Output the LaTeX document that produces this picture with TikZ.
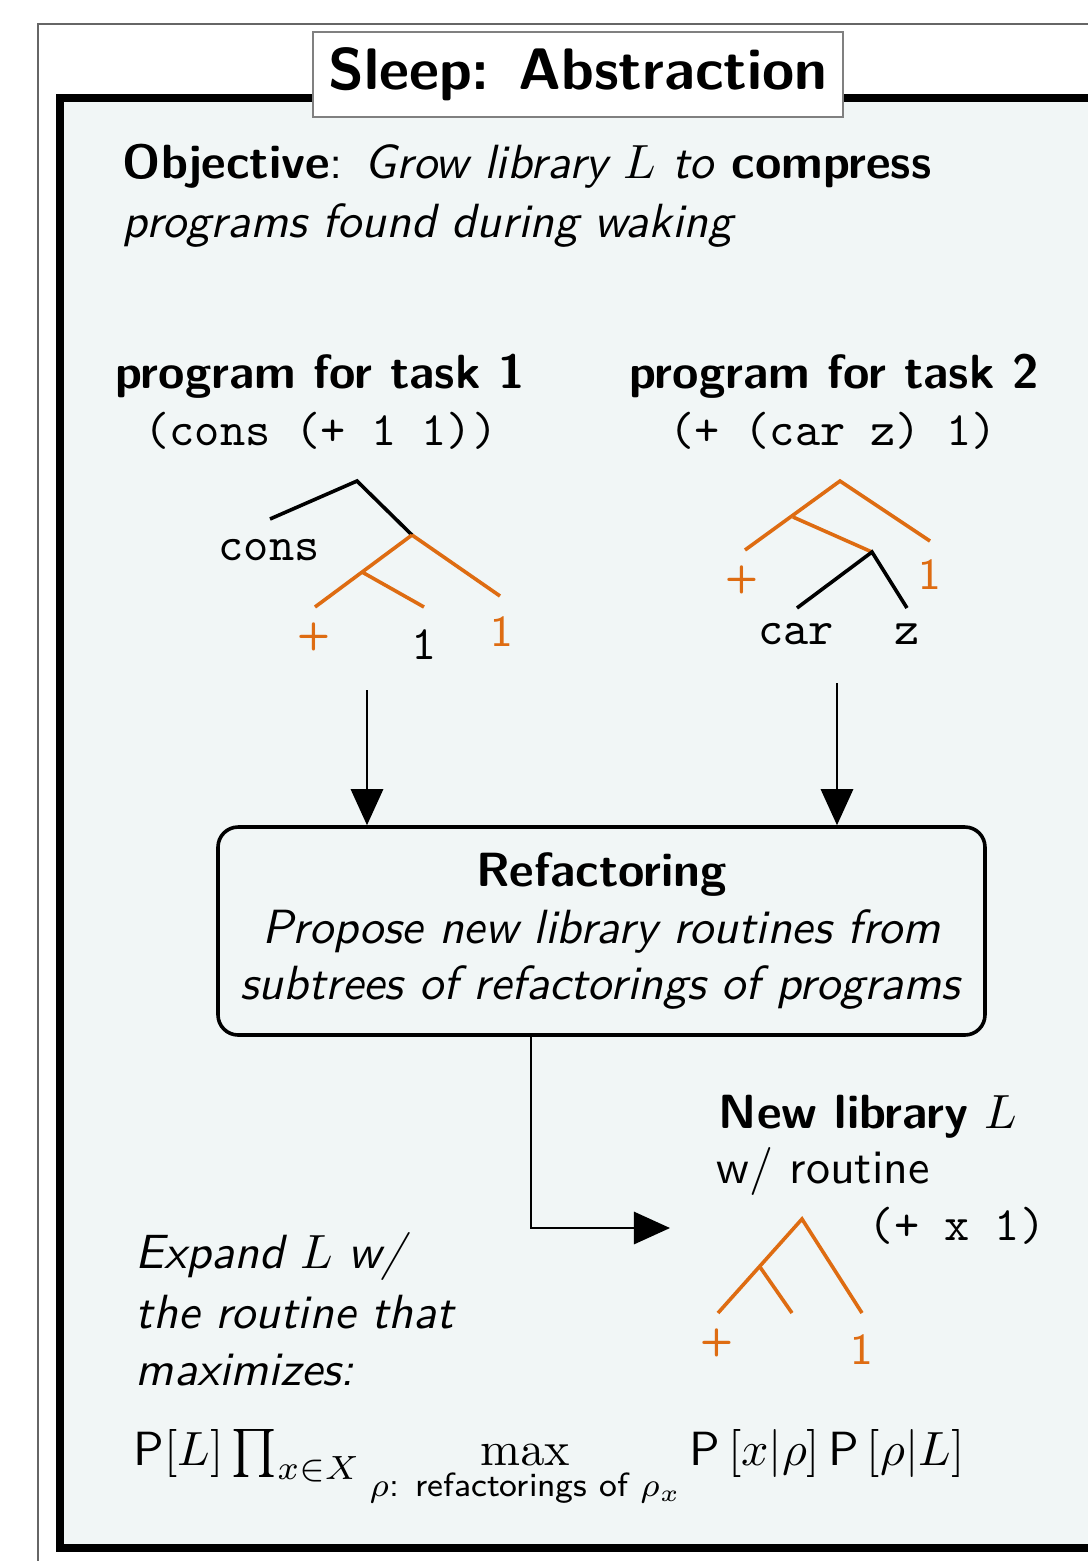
\documentclass[tikz,border=0pt]{standalone}
\usepackage{amsmath}
\usetikzlibrary{arrows.meta}
\definecolor{bgfill}{HTML}{F1F6F6}
\definecolor{treeorange}{RGB}{222,108,18}
\begin{document}
\begin{tikzpicture}[x=0.2083333pt,y=-0.2083333pt,
  txt/.style={inner sep=0pt, font=\fontsize{10}{12}\selectfont\sffamily},
  code/.style={inner sep=0pt, font=\fontsize{10}{12}\selectfont\ttfamily},
  olab/.style={inner sep=0pt, text=treeorange, font=\fontsize{9.2}{11}\selectfont\sffamily},
  oplus/.style={inner sep=0pt, text=treeorange, font=\fontsize{8}{10}\selectfont\sffamily\bfseries},
  blk/.style={line width=0.75pt, black},
  org/.style={line width=0.75pt, treeorange},
  arr/.style={line width=0.5pt, -{Triangle[length=7.5pt,width=6.7pt]}},
  titlebox/.style={draw=gray, fill=white, line width=0.42pt, inner sep=0pt,
    minimum width=110.42pt, minimum height=17.71pt,
    font=\fontsize{12.2}{14.6}\selectfont\sffamily\bfseries},
  refbox/.style={draw, line width=0.75pt, rounded corners=4.2pt, fill=bgfill,
    minimum width=159.79pt, minimum height=43.33pt, align=center,
    font=\fontsize{10}{11.67}\selectfont\sffamily}
]
\useasboundingbox (0,0) rectangle (1088,1561);
\clip (0,0) rectangle (1088,1561);
\fill[white] (0,0) rectangle (1088,1561);
% frames
\draw[gray!80!black, line width=0.42pt] (38,24) rectangle (1300,1800);
\draw[line width=1.5pt, fill=bgfill] (60,98) rectangle (1300,1548);
\node[titlebox] (title) at (578,74.5) {Sleep: Abstraction};

% objective
\node[txt, anchor=base west] (obj1) at (122,178) {\textbf{Objective}: \textit{Grow library $L$ to} \textbf{compress}};
\node[txt, anchor=base west] (obj2) at (122,237) {\textit{programs found during waking}};

% task headers
\node[txt, anchor=base, font=\fontsize{10}{12}\selectfont\sffamily\bfseries] (h1) at (320,388) {program for task 1};
\node[code, anchor=base] (p1) at (321,445) {(cons (+ 1 1))};
\node[txt, anchor=base, font=\fontsize{10}{12}\selectfont\sffamily\bfseries] (h2) at (834,388) {program for task 2};
\node[code, anchor=base] (p2) at (833,445) {(+ (car z) 1)};

% tree 1
\coordinate (t1r) at (357,481);
\coordinate (t1a) at (412,535);
\coordinate (t1b) at (362,572);
\draw[blk] (270,519) -- (t1r) -- (t1a);
\draw[org] (t1a) -- (315,607);
\draw[org] (t1b) -- (424,607);
\draw[org] (t1a) -- (500,596);
\node[code, anchor=base] (t1cons) at (269,560) {cons};
\node[oplus] (t1plus) at (314,637) {+};
\node[code] (t1one) at (424,645) {1};
\node[olab] (t1oone) at (502,632) {1};

% tree 2
\coordinate (t2r) at (840,481);
\coordinate (t2a) at (793,517);
\coordinate (t2b) at (872,552);
\draw[org] (745,550) -- (t2r) -- (930,541);
\draw[org] (t2a) -- (t2b);
\draw[blk] (797,608) -- (t2b) -- (907,608);
\node[oplus] (t2plus) at (742,580) {+};
\node[olab] (t2one) at (930,575) {1};
\node[code] (t2car) at (796,634) {car};
\node[code] (t2z) at (907,634) {z};

% refactoring box
\node[refbox] (ref) at (601.5,931) {\textbf{Refactoring}\\ \textit{Propose new library routines from}\\ \textit{subtrees of refactorings of programs}};

% arrows into box
\coordinate (a1) at (367,690);
\coordinate (a2) at (837,683);
\draw[arr] (a1) -- (a1 |- ref.north);
\draw[arr] (a2) -- (a2 |- ref.north);

% new library
\node[txt, anchor=base west] (nl1) at (718,1128) {\textbf{New library} $L$};
\node[txt, anchor=base west] (nl2) at (716,1183) {w/ routine};
\node[code, anchor=base west] (nl3) at (868,1240) {(+ x 1)};

% tree 3
\coordinate (t3r) at (802,1219);
\coordinate (t3a) at (760,1267);
\draw[org] (718,1313) -- (t3r) -- (862,1313);
\draw[org] (t3a) -- (792,1313);
\node[oplus] (t3plus) at (717,1343) {+};
\node[olab] (t3one) at (862,1350) {1};

% connector box -> new library
\coordinate (cx) at (531,0);
\coordinate (t3in) at (670,1228);
\draw[arr] (ref.south -| cx) |- (t3in);

% expand text
\node[txt, anchor=base west] (ex1) at (135,1268) {\textit{Expand $L$ w/}};
\node[txt, anchor=base west] (ex2) at (135,1328) {\textit{the routine that}};
\node[txt, anchor=base west] (ex3) at (135,1385) {\textit{maximizes:}};

% formula
\node[txt, anchor=base west] (formula) at (133,1465) {$\mathsf{P}[L]\prod_{x\in X}\max\limits_{\rho\text{\sffamily: refactorings of }\rho_x}\mathsf{P}\left[x|\rho\right]\mathsf{P}\left[\rho|L\right]$};
\end{tikzpicture}
\end{document}
